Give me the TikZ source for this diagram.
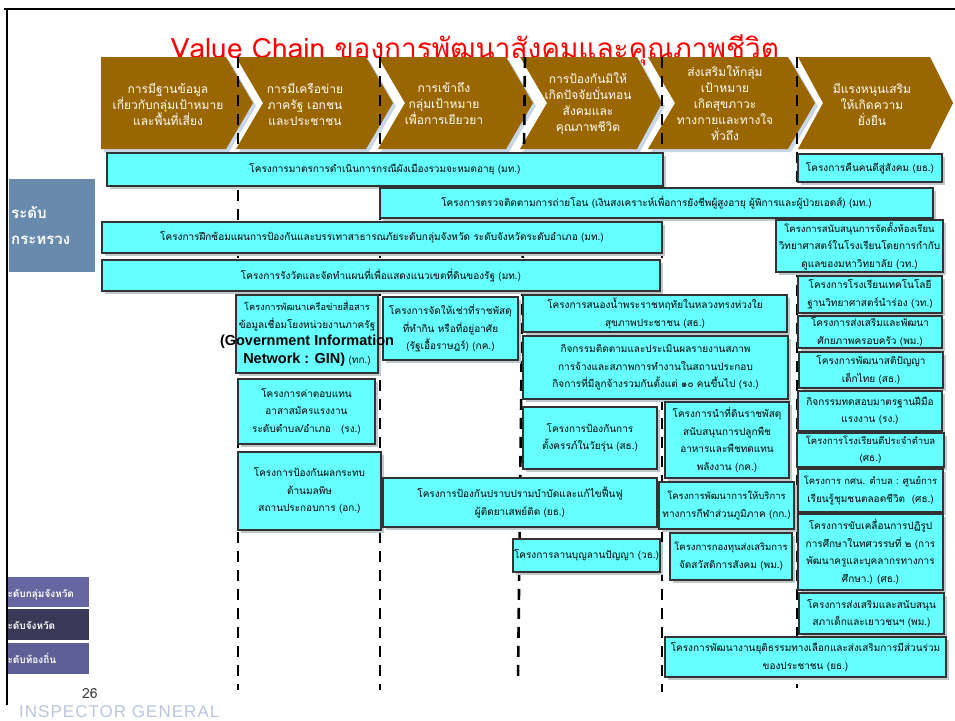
\documentclass[tikz,border=0pt]{standalone}
\usepackage{fontspec}
\setmainfont[Script=Thai]{Loma}
\newfontfamily\arialf{Liberation Sans}
\definecolor{cyanf}{RGB}{102,255,255}
\definecolor{brownf}{RGB}{153,102,0}
\definecolor{shadowc}{RGB}{190,200,205}
\definecolor{chshadow}{RGB}{200,215,230}
\definecolor{minblue}{RGB}{104,138,172}
\definecolor{lvlone}{RGB}{102,102,160}
\definecolor{lvltwo}{RGB}{56,58,88}
\definecolor{lvlthree}{RGB}{92,96,150}
\definecolor{igcol}{RGB}{185,198,222}
\tikzset{
  cbox/.style={draw=black!80, line width=1.1pt, fill=cyanf, inner sep=0pt, align=center,
    font=\fontsize{10}{17.5}\selectfont},
  chev/.style={fill=brownf},
  chshad/.style={fill=chshadow},
  chtext/.style={text=white, align=center, inner sep=0pt, font=\fontsize{12}{16}\selectfont},
  divider/.style={line width=2.6pt, dash pattern=on 11pt off 8pt},
  lvltext/.style={anchor=base west, text=white, inner sep=0pt, font=\bfseries\fontsize{10}{12}\selectfont},
}
\newcommand\cyanbox[6]{%
  \fill[shadowc] ({#2+2.5},{#3+2.5}) rectangle ({#4+2.5},{#5+2.5});
  \node[cbox, minimum width={#4-#2}, minimum height={#5-#3}] (#1) at ({(#2+#4)/2},{(#3+#5)/2}) {#6};
}
\begin{document}
\begin{tikzpicture}[x=1pt,y=-1pt]
\useasboundingbox (0,0) rectangle (955,720);
\fill[white] (0,0) rectangle (955,720);
% title
\node[anchor=base, text=red, inner sep=0pt, font=\fontsize{28}{32}\selectfont] (title) at (475,58) {Value Chain ของการพัฒนาสังคมและคุณภาพชีวิต};
% chevrons
\fill[chshad] (104,60) -- (229,60) -- (256,106) -- (229,152) -- (104,152) -- cycle;
\fill[chev] (101,57) -- (226,57) -- (253,103) -- (226,149) -- (101,149) -- cycle;
\fill[chshad] (239,60) -- (369,60) -- (396,106) -- (369,152) -- (239,152) -- (266,106) -- cycle;
\fill[chev] (236,57) -- (366,57) -- (393,103) -- (366,149) -- (236,149) -- (263,103) -- cycle;
\fill[chshad] (381,60) -- (509,60) -- (536,106) -- (509,152) -- (381,152) -- (408,106) -- cycle;
\fill[chev] (378,57) -- (506,57) -- (533,103) -- (506,149) -- (378,149) -- (405,103) -- cycle;
\fill[chshad] (523,60) -- (640,60) -- (665,106) -- (640,152) -- (523,152) -- (550,106) -- cycle;
\fill[chev] (520,57) -- (637,57) -- (662,103) -- (637,149) -- (520,149) -- (547,103) -- cycle;
\fill[chshad] (651,60) -- (791,60) -- (818,106) -- (791,152) -- (651,152) -- (678,106) -- cycle;
\fill[chev] (648,57) -- (788,57) -- (815,103) -- (788,149) -- (648,149) -- (675,103) -- cycle;
\fill[chev] (798,57) -- (930,57) -- (953,103) -- (930,149) -- (798,149) -- (823,103) -- cycle;
\node[chtext] (ch1) at (168,104) {การมีฐานข้อมูล\\เกี่ยวกับกลุ่มเป้าหมาย\\และพื้นที่เสี่ยง};
\node[chtext] (ch2) at (305,104) {การมีเครือข่าย\\ภาครัฐ เอกชน\\และประชาชน};
\node[chtext] (ch3) at (444,104) {การเข้าถึง\\กลุ่มเป้าหมาย\\เพื่อการเยียวยา};
\node[chtext] (ch4) at (588,104) {การป้องกันมิให้\\เกิดปัจจัยบั่นทอน\\สังคมและ\\คุณภาพชีวิต};
\node[chtext] (ch5) at (725,103) {ส่งเสริมให้กลุ่ม\\เป้าหมาย\\เกิดสุขภาวะ\\ทางกายและทางใจ\\ทั่วถึง};
\node[chtext] (ch6) at (872,104) {มีแรงหนุนเสริม\\ให้เกิดความ\\ยั่งยืน};
% dividers
\coordinate (d1t) at (238,57); \coordinate (d1b) at (238,690);
\coordinate (d2t) at (380,57); \coordinate (d2b) at (380,690);
\coordinate (d3t) at (525,57); \coordinate (d3b) at (518,680);
\coordinate (d4t) at (662,57); \coordinate (d4b) at (662,692);
\coordinate (d5t) at (797,57); \coordinate (d5b) at (797,688);
\draw[divider] (d1t) -- (d1b);
\draw[divider] (d2t) -- (d2b);
\draw[divider] (d3t) -- (d3b);
\draw[divider] (d4t) -- (d4b);
\draw[divider] (d5t) -- (d5b);
% wide boxes
\cyanbox{ba}{107}{153}{663}{186}{โครงการมาตรการดำเนินการกรณีผังเมืองรวมจะหมดอายุ (มท.)}
\cyanbox{bb}{380}{188}{933}{218}{โครงการตรวจติดตามการถ่ายโอน (เงินสงเคราะห์เพื่อการยังชีพผู้สูงอายุ ผู้พิการและผู้ป่วยเอดส์) (มท.)}
\cyanbox{bc}{102}{222}{662}{253}{โครงการฝึกซ้อมแผนการป้องกันและบรรเทาสาธารณภัยระดับกลุ่มจังหวัด ระดับจังหวัดระดับอำเภอ (มท.)}
\cyanbox{bd}{102}{260}{660}{291}{โครงการรังวัดและจัดทำแผนที่เพื่อแสดงแนวเขตที่ดินของรัฐ (มท.)}
% right column
\cyanbox{be}{798}{154}{942}{182}{โครงการคืนคนดีสู่สังคม (ยธ.)}
\cyanbox{bf}{776}{220}{943}{272}{\fontsize{9.5}{17.5}\selectfont โครงการสนับสนุนการจัดตั้งห้องเรียน\\วิทยาศาสตร์ในโรงเรียนโดยการกำกับ\\ดูแลของมหาวิทยาลัย (วท.)}
\cyanbox{bg}{798}{276}{942}{313}{โครงการโรงเรียนเทคโนโลยี\\ฐานวิทยาศาสตร์นำร่อง (วท.)}
\cyanbox{bh}{798}{316}{942}{348}{โครงการส่งเสริมและพัฒนา\\ศักยภาพครอบครัว (พม.)}
\cyanbox{bi}{799}{352}{943}{388}{โครงการพัฒนาสติปัญญา\\เด็กไทย (สธ.)}
\cyanbox{bj}{798}{391}{942}{431}{กิจกรรมทดสอบมาตรฐานฝีมือ\\แรงงาน (รง.)}
\cyanbox{bk}{797}{433}{944}{467}{\fontsize{9.5}{17.5}\selectfont โครงการโรงเรียนดีประจำตำบล\\(ศธ.)}
\cyanbox{bl}{798}{469}{943}{512}{\fontsize{9.5}{17.5}\selectfont โครงการ กศน. ตำบล : ศูนย์การ\\เรียนรู้ชุมชนตลอดชีวิต~~(ศธ.)}
\cyanbox{bm}{798}{514}{943}{590}{โครงการขับเคลื่อนการปฏิรูป\\การศึกษาในทศวรรษที่ ๒ (การ\\พัฒนาครูและบุคลากรทางการ\\ศึกษา.) (ศธ.)}
\cyanbox{bn}{799}{593}{944}{634}{โครงการส่งเสริมและสนับสนุน\\สภาเด็กและเยาวชนฯ (พม.)}
\cyanbox{bo}{665}{637}{946}{677}{โครงการพัฒนางานยุติธรรมทางเลือกและส่งเสริมการมีส่วนร่วม\\ของประชาชน (ยธ.)}
% middle boxes
\cyanbox{bq}{383}{297}{518}{360}{โครงการจัดให้เช่าที่ราชพัสดุ\\ที่ทำกิน หรือที่อยู่อาศัย\\(รัฐเอื้อราษฎร์) (กค.)}
\cyanbox{bp}{236}{295}{378}{373}{\fontsize{9.2}{17}\selectfont โครงการพัฒนาเครือข่ายสื่อสาร\\ข้อมูลเชื่อมโยงหน่วยงานภาครัฐ\\\makebox[0pt]{\arialf\bfseries\fontsize{14.5}{17}\selectfont (Government Information}\\{\arialf\bfseries\fontsize{14.5}{17}\selectfont Network : GIN)} (ทก.)}
\cyanbox{br}{238}{379}{375}{444}{โครงการค่าตอบแทน\\อาสาสมัครแรงงาน\\ระดับตำบล/อำเภอ~~~(รง.)}
\cyanbox{bs}{238}{452}{381}{530}{โครงการป้องกันผลกระทบ\\ด้านมลพิษ\\สถานประกอบการ (อก.)}
\cyanbox{bt}{383}{478}{657}{527}{โครงการป้องกันปราบปรามบำบัดและแก้ไขฟื้นฟู\\ผู้ติดยาเสพย์ติด (ยธ.)}
\cyanbox{bu}{513}{539}{660}{572}{โครงการลานบุญลานปัญญา (วธ.)}
\cyanbox{bv}{523}{295}{787}{332}{โครงการสนองน้ำพระราชหฤทัยในหลวงทรงห่วงใย\\สุขภาพประชาชน (สธ.)}
\cyanbox{bw}{523}{336}{788}{399}{กิจกรรมติดตามและประเมินผลรายงานสภาพ\\การจ้างและสภาพการทำงานในสถานประกอบ\\กิจการที่มีลูกจ้างรวมกันตั้งแต่ ๑๐ คนขึ้นไป (รง.)}
\cyanbox{bx}{523}{407}{657}{469}{โครงการป้องกันการ\\ตั้งครรภ์ในวัยรุ่น (สธ.)}
\cyanbox{by}{665}{402}{789}{478}{โครงการนำที่ดินราชพัสดุ\\สนับสนุนการปลูกพืช\\อาหารและพืชทดแทน\\พลังงาน (กค.)}
\cyanbox{bz}{659}{482}{794}{529}{\fontsize{9.5}{17.5}\selectfont โครงการพัฒนาการให้บริการ\\ทางการกีฬาส่วนภูมิภาค (กก.)}
\cyanbox{bzz}{670}{533}{792}{580}{\fontsize{9.5}{17.5}\selectfont โครงการกองทุนส่งเสริมการ\\จัดสวัสดิการสังคม (พม.)}
% level labels
\fill[minblue] (9,179) rectangle (95,272);
\node[anchor=base west, text=white, inner sep=0pt, font=\bfseries\fontsize{15}{16}\selectfont] (lva) at (11,218) {ระดับ};
\node[anchor=base west, text=white, inner sep=0pt, font=\bfseries\fontsize{15}{16}\selectfont] (lvb) at (11,244) {กระทรวง};
\begin{scope}
  \clip (8,570) rectangle (100,680);
  \fill[lvlone] (0,577) rectangle (89,607);
  \fill[lvltwo] (0,609) rectangle (89,640);
  \fill[lvlthree] (0,643) rectangle (89,674);
  \node[lvltext] (lv1) at (2,597) {ระดับกลุ่มจังหวัด};
  \node[lvltext] (lv2) at (2,629) {ระดับจังหวัด};
  \node[lvltext] (lv3) at (2,663) {ระดับท้องถิ่น};
\end{scope}
% footer
\node[text=black!75, inner sep=0pt, font=\fontsize{14}{16}\selectfont] (pg) at (90,694) {26};
\node[anchor=base west, text=igcol, inner sep=0pt, font=\arialf\fontsize{17}{18}\selectfont\addfontfeature{LetterSpace=6}] (ig) at (19,717) {INSPECTOR GENERAL};
% frame
\draw[line width=2.5pt] (4,9) -- (955,9);
\draw[line width=2.5pt] (7,8) -- (7,705);
\end{tikzpicture}
\end{document}
